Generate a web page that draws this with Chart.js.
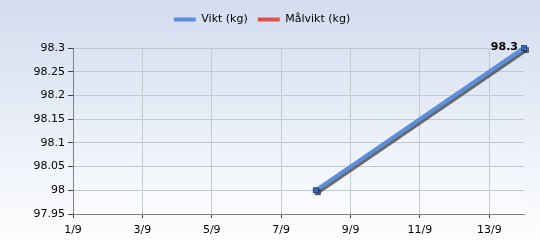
<!DOCTYPE html>
<html><head><meta charset="utf-8">
<script src="https://cdn.jsdelivr.net/npm/chart.js@4"></script>
<style>html,body{margin:0;padding:0;background:#fff}#c{display:block}</style>
</head><body>
<canvas id="c" width="540" height="250"></canvas>
<script>
const month = 9;
const days = [8, 14];
const vikt = [98.0, 98.3];
const malvikt = [];
const seriesNames = ['Vikt (kg)', 'Målvikt (kg)'];
const xMin = 1, xMax = 14, xStep = 2;
const yMin = 97.95, yMax = 98.3, yStep = 0.05;

const bgPlugin = {
  id: 'bg',
  beforeInit(chart) {
    const lg = chart.legend;
    if (lg) {
      const orig = lg.fit.bind(lg);
      lg.fit = function () { orig(); this.height += 13; };
    }
  },
  beforeDraw(chart) {
    const {ctx, width, height, chartArea: a} = chart;
    ctx.save();
    let g = ctx.createLinearGradient(0, 0, 0, height);
    g.addColorStop(0, '#d3ddef');
    g.addColorStop(1, '#ffffff');
    ctx.fillStyle = g;
    ctx.fillRect(0, 0, width, height);
    g = ctx.createLinearGradient(0, a.top, 0, a.bottom);
    g.addColorStop(0, '#dae3f2');
    g.addColorStop(1, '#fbfcfe');
    ctx.fillStyle = g;
    ctx.fillRect(a.left, a.top, a.right - a.left, a.bottom - a.top);
    ctx.restore();
  },
  beforeDatasetsDraw(chart) {
    const ctx = chart.ctx;
    ctx.save();
    ctx.shadowColor = 'rgba(60,60,60,0.75)';
    ctx.shadowOffsetX = 2;
    ctx.shadowOffsetY = 2;
    ctx.shadowBlur = 0;
  },
  afterDatasetsDraw(chart) {
    chart.ctx.restore();
    const ctx = chart.ctx;
    const meta = chart.getDatasetMeta(0);
    const last = meta.data[meta.data.length - 1];
    if (last) {
      ctx.save();
      ctx.font = 'bold 11px "DejaVu Sans"';
      ctx.fillStyle = '#000';
      ctx.textAlign = 'right';
      ctx.textBaseline = 'middle';
      ctx.fillText(String(vikt[vikt.length - 1]), last.x - 6, last.y - 1);
      ctx.restore();
    }
  }
};

function stepTicks(min, max, step, dec) {
  const t = [];
  const f = Math.pow(10, dec);
  for (let v = min; v <= max + 1e-9; v += step) t.push({ value: Math.round(v * f) / f });
  return t;
}

new Chart(document.getElementById('c'), {
  type: 'line',
  data: {
    datasets: [
      { label: seriesNames[0], data: days.map((d, i) => ({x: d, y: vikt[i]})),
        borderColor: '#5b8fdc', backgroundColor: '#4a7fd0', borderWidth: 4,
        pointStyle: 'rect', pointRadius: 3.5, pointBorderColor: '#1f3f80', pointBorderWidth: 1,
        pointBackgroundColor: '#4a7fd0', tension: 0, fill: false, clip: false },
      { label: seriesNames[1], data: malvikt.map((v, i) => ({x: days[i], y: v})),
        borderColor: '#d9534a', backgroundColor: '#d9534a', borderWidth: 4,
        pointStyle: 'rect', pointRadius: 3.5, tension: 0, fill: false, clip: false }
    ]
  },
  options: {
    responsive: false,
    animation: false,
    devicePixelRatio: 1,
    layout: { padding: { left: 0, right: 16, top: 4, bottom: 0 } },
    plugins: {
      legend: {
        position: 'top',
        labels: {
          font: { family: '"DejaVu Sans"', size: 11 },
          color: '#000',
          boxWidth: 22, boxHeight: 4, padding: 10,
          generateLabels(chart) {
            return chart.data.datasets.map((ds, i) => ({
              text: ds.label, fillStyle: ds.borderColor, strokeStyle: 'rgba(0,0,0,0)',
              lineWidth: 0, datasetIndex: i, fontColor: '#000'
            }));
          }
        }
      },
      tooltip: { enabled: false }
    },
    scales: {
      x: {
        type: 'linear', min: xMin, max: xMax,
        afterFit(s) { s.height = 36; },
        afterBuildTicks(s) { s.ticks = stepTicks(xMin, xMax, xStep, 0); },
        ticks: { autoSkip: false, maxRotation: 0,
          font: { family: '"DejaVu Sans"', size: 11 }, color: '#000', padding: 6,
          callback: v => v + '/' + month },
        grid: { color: '#c4c8d0', tickColor: '#404040', tickLength: 4, lineWidth: 1 },
        border: { color: '#808080', width: 1 }
      },
      y: {
        min: yMin, max: yMax,
        afterFit(s) { s.width = 73; },
        afterBuildTicks(s) { s.ticks = stepTicks(yMin, yMax, yStep, 2); },
        ticks: { font: { family: '"DejaVu Sans"', size: 11 }, color: '#000', padding: 3,
          callback: v => String(Math.round(v * 100) / 100) },
        grid: { color: '#c4c8d0', tickColor: '#404040', tickLength: 5, lineWidth: 1 },
        border: { color: '#808080', width: 1 }
      }
    }
  },
  plugins: [bgPlugin]
});
</script>
</body></html>
